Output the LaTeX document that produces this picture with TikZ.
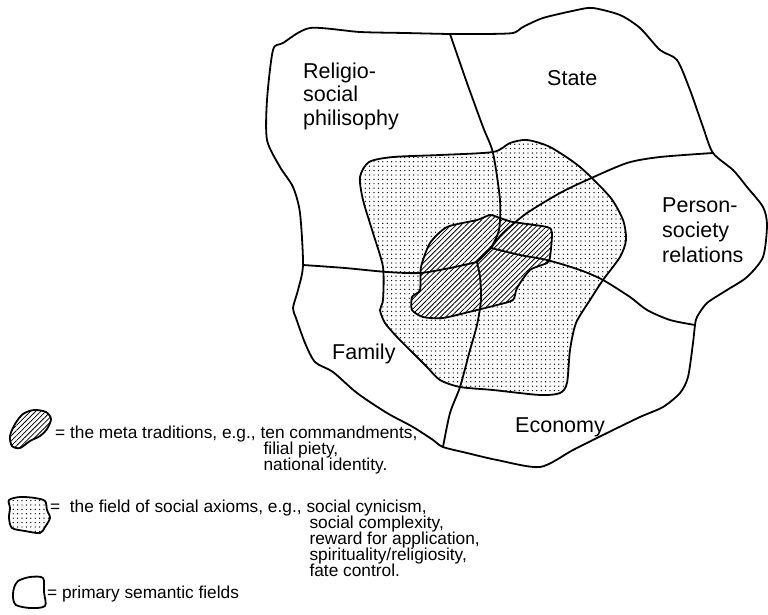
\documentclass[tikz,border=0pt]{standalone}
\usepackage{fontspec}
\setmainfont{Liberation Sans}
\usetikzlibrary{patterns.meta}
\begin{document}
\begin{tikzpicture}[x=1pt,y=-1pt,
  edge/.style={line width=1.8pt, line join=round, line cap=round},
  field/.style={edge},
  stipplefill/.style={pattern={Dots[distance=4.4pt, radius=0.7pt]}},
  hatchfill/.style={preaction={fill=white}, pattern={Lines[angle=45, distance=3.6pt, line width=0.8pt]}},
  lbl/.style={font=\fontsize{21.5}{25}\selectfont, inner sep=0pt, anchor=base west},
  leg/.style={font=\fontsize{17.3}{15}\selectfont, inner sep=0pt, anchor=base west},
]
\useasboundingbox (0,0) rectangle (768,615);

% junctions of the field boundaries
\coordinate (J1) at (450,34);
\coordinate (J2) at (713,153);
\coordinate (J3) at (695,325);
\coordinate (J4) at (443,447);
\coordinate (J5) at (303,265);
\coordinate (A) at (491,248);
\coordinate (B) at (477,262);

% field of social axioms (stippled)
\path[stipplefill, draw, edge] plot[smooth cycle, tension=0.45] coordinates {
  (360,177) (369,162) (393,157) (440,155) (493,152) (510,143) (527,140)
  (550,147) (580,167) (610,197) (623,220) (626,240) (620,257) (603,280)
  (590,300) (576,323) (570,350) (567,383) (560,393) (540,395) (493,390)
  (460,387) (440,380) (427,367) (413,353) (397,337) (385,323) (380,310)
  (383,300) (383,267) (373,233) (363,200)};

% meta traditions (hatched)
\path[hatchfill, draw, edge] plot[smooth cycle, tension=0.4] coordinates {
  (490,215) (477,220) (447,227) (430,243) (421,267) (420,290) (412,297)
  (412,310) (423,317) (443,318) (477,310) (497,305) (513,300) (517,288)
  (530,270) (547,263) (550,257) (552,233) (547,227) (513,222) (500,218)};

% outer boundary of the primary semantic fields
\draw[field] plot[smooth cycle, tension=0.45] coordinates {
  (273,50) (283,43) (310,28) (360,32) (405,33) (J1) (485,34) (513,33)
  (523,27) (543,18) (577,10) (593,8) (620,15) (640,28) (660,50) (677,60)
  (690,90) (703,127) (J2) (733,170) (747,187) (763,207) (767,225)
  (763,257) (747,277) (727,290) (707,303) (697,317) (J3) (693,343)
  (688,377) (680,393) (663,407) (640,417) (607,433) (573,450) (540,467)
  (497,460) (467,453) (J4) (433,440) (413,427) (387,413) (357,393)
  (333,372) (315,362) (305,343) (296,318) (293,308) (298,290) (J5)
  (300,213) (293,187) (280,167) (267,140) (267,100)};

% dividing lines between the fields
\draw[field] plot[smooth, tension=0.45] coordinates {
  (J1) (467,83) (483,127) (493,153) (500,200) (499,230) (A)};
\draw[field] plot[smooth, tension=0.45] coordinates {
  (J2) (660,157) (627,163) (587,180) (560,193) (527,213) (503,233) (A)};
\draw[field] plot[smooth, tension=0.45] coordinates {
  (A) (520,255) (547,260) (580,270) (603,280) (630,297) (647,310) (670,320) (J3)};
\draw[field] plot[smooth, tension=0.45] coordinates {
  (J5) (345,268) (387,272) (420,273) (450,268) (B)};
\draw[field] (A) -- (B);
\draw[field] plot[smooth, tension=0.45] coordinates {
  (B) (480,277) (481,300) (477,325) (470,350) (460,387) (450,413) (J4)};

% field names
\node[lbl] (rel1) at (303,79) {Religio-};
\node[lbl] (rel2) at (303,102) {social};
\node[lbl] (rel3) at (303,125) {philisophy};
\node[lbl] (state) at (547,86) {State};
\node[lbl] (ps1) at (662,212) {Person-};
\node[lbl] (ps2) at (662,237) {society};
\node[lbl] (ps3) at (662,262) {relations};
\node[lbl] (family) at (332,359) {Family};
\node[lbl] (economy) at (515,432) {Economy};

% legend: meta traditions
\path[hatchfill, draw, edge] plot[smooth cycle, tension=0.5] coordinates {
  (12,446) (10,436) (15,424) (23,414) (34,410) (46,412) (51,419)
  (47,429) (40,436) (30,441) (20,448)};
\node[leg] (meta) at (55,438) {= the meta traditions, e.g.,};
\node[leg] (meta1) at ([xshift=4.5pt]meta.base east) {ten commandments,};
\node[leg] (meta2) at ([xshift=3pt, yshift=-16pt]meta1.base west) {filial piety,};
\node[leg] (meta3) at ([yshift=-16pt]meta2.base west) {national identity.};

% legend: social axioms
\path[stipplefill, draw, edge] plot[smooth cycle, tension=0.5] coordinates {
  (9,500) (20,497) (35,498) (45,501) (47,510) (50,518) (45,527)
  (40,533) (25,531) (12,528) (9,518) (10,508)};
\node[leg] (ax) at (50,512) {=\ \ the field of social axioms, e.g.,};
\node[leg] (ax1) at ([xshift=4.5pt]ax.base east) {social cynicism,};
\node[leg] (ax2) at ([xshift=3pt, yshift=-16pt]ax1.base west) {social complexity,};
\node[leg] (ax3) at ([yshift=-16pt]ax2.base west) {reward for application,};
\node[leg] (ax4) at ([yshift=-16pt]ax3.base west) {spirituality/religiosity,};
\node[leg] (ax5) at ([yshift=-16pt]ax4.base west) {fate control.};

% legend: primary semantic fields
\draw[edge] plot[smooth cycle, tension=0.5] coordinates {
  (18,581) (30,577) (43,578) (44,592) (45,606) (30,608) (16,605)
  (13,597) (14,588)};
\node[leg] (prim) at (47,598) {= primary semantic fields};
\end{tikzpicture}
\end{document}
